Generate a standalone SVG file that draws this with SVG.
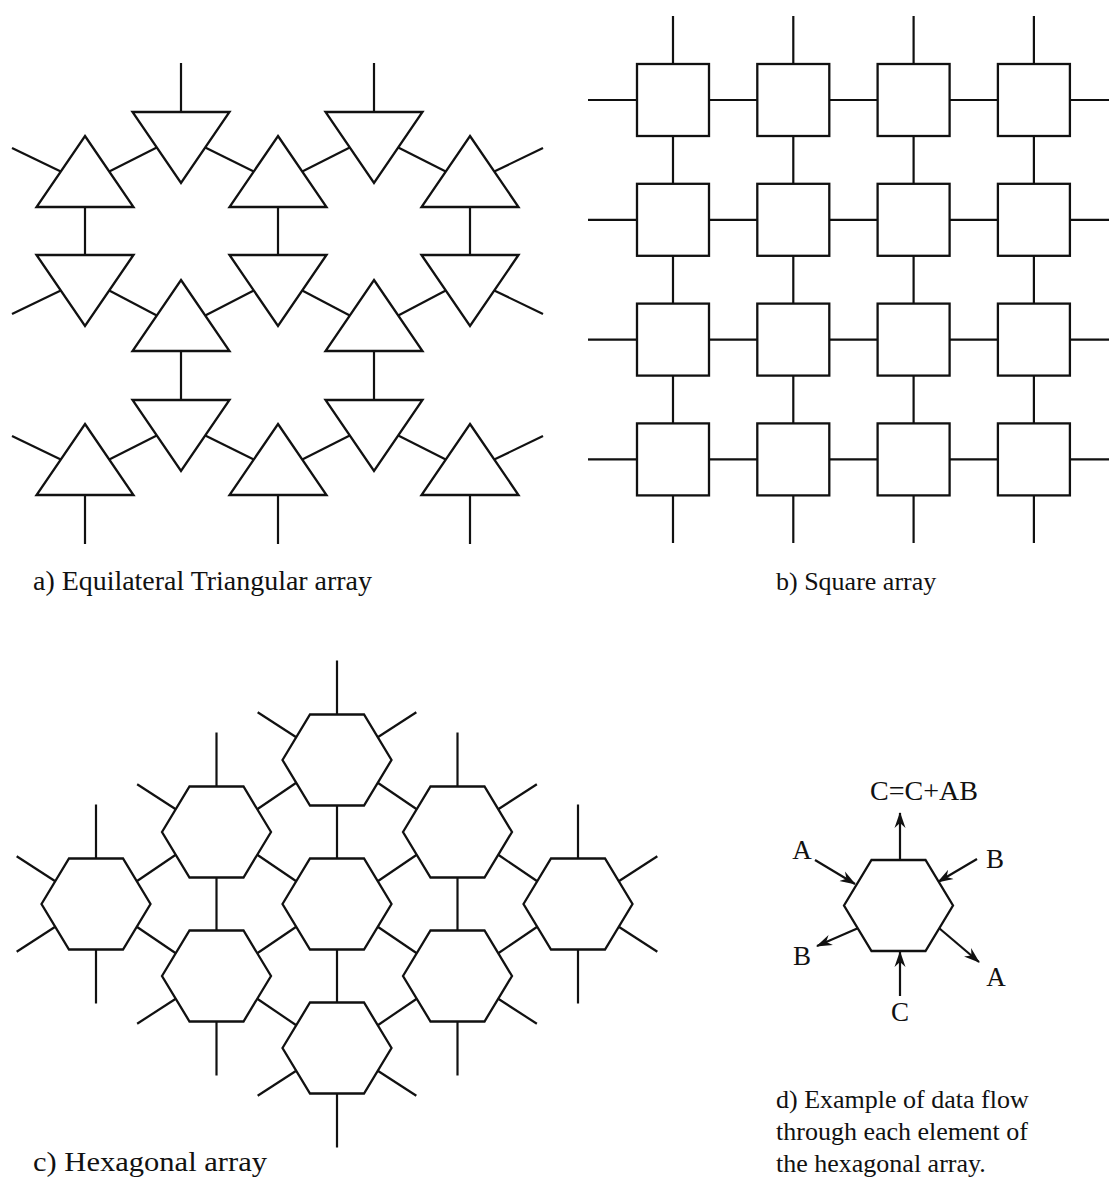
<svg xmlns="http://www.w3.org/2000/svg" width="1109" height="1186" viewBox="0 0 1109 1186">
<defs>
<style>
.n{fill:#fff;stroke:#111;stroke-width:2.3;stroke-linejoin:miter}
.c line,.c path{stroke:#111;stroke-width:2.2;fill:none}
.t{font-family:"Liberation Serif","Times New Roman",serif;font-size:26px;fill:#111}
.l{font-family:"Liberation Serif","Times New Roman",serif;font-size:27px;fill:#111;text-anchor:middle}
</style>
<polygon id="up" points="0,0 48.5,71 -48.5,71"/>
<polygon id="dn" points="-48.5,0 48.5,0 0,71"/>
<polygon id="hx" points="-54.5,0 -27,-45.5 27,-45.5 54.5,0 27,45.5 -27,45.5"/>
<marker id="ah" viewBox="0 0 16 12" refX="15" refY="6" markerWidth="16" markerHeight="12" markerUnits="userSpaceOnUse" orient="auto">
<path d="M0,0.5 L16,6 L0,11.5 L5,6 z" fill="#111"/>
</marker>
</defs>
<rect width="1109" height="1186" fill="#fff"/>

<!-- a) triangular array connectors -->
<g id="tri-connectors" class="c">
<line x1="109.25" y1="171.5" x2="156.75" y2="147.5"/>
<line x1="205.25" y1="147.5" x2="253.75" y2="171.5"/>
<line x1="302.25" y1="171.5" x2="349.75" y2="147.5"/>
<line x1="398.25" y1="147.5" x2="445.75" y2="171.5"/>
<line x1="60.75" y1="171.5" x2="12" y2="148"/>
<line x1="494.25" y1="171.5" x2="543" y2="148"/>
<line x1="181" y1="112" x2="181" y2="63"/>
<line x1="374" y1="112" x2="374" y2="63"/>
<line x1="85" y1="207" x2="85" y2="255"/>
<line x1="278" y1="207" x2="278" y2="255"/>
<line x1="470" y1="207" x2="470" y2="255"/>
<line x1="109.25" y1="290.5" x2="156.75" y2="315.5"/>
<line x1="205.25" y1="315.5" x2="253.75" y2="290.5"/>
<line x1="302.25" y1="290.5" x2="349.75" y2="315.5"/>
<line x1="398.25" y1="315.5" x2="445.75" y2="290.5"/>
<line x1="60.75" y1="290.5" x2="12" y2="314"/>
<line x1="494.25" y1="290.5" x2="543" y2="314"/>
<line x1="181" y1="351" x2="181" y2="400"/>
<line x1="374" y1="351" x2="374" y2="400"/>
<line x1="109.25" y1="459.5" x2="156.75" y2="435.5"/>
<line x1="205.25" y1="435.5" x2="253.75" y2="459.5"/>
<line x1="302.25" y1="459.5" x2="349.75" y2="435.5"/>
<line x1="398.25" y1="435.5" x2="445.75" y2="459.5"/>
<line x1="60.75" y1="459.5" x2="12" y2="436"/>
<line x1="494.25" y1="459.5" x2="543" y2="436"/>
<line x1="85" y1="495" x2="85" y2="544"/>
<line x1="278" y1="495" x2="278" y2="544"/>
<line x1="470" y1="495" x2="470" y2="544"/>
</g>
<g id="tri-nodes">
<g id="t11"><use href="#up" class="n" x="85" y="136"/></g>
<g id="t12"><use href="#dn" class="n" x="181" y="112"/></g>
<g id="t13"><use href="#up" class="n" x="278" y="136"/></g>
<g id="t14"><use href="#dn" class="n" x="374" y="112"/></g>
<g id="t15"><use href="#up" class="n" x="470" y="136"/></g>
<g id="t21"><use href="#dn" class="n" x="85" y="255"/></g>
<g id="t22"><use href="#up" class="n" x="181" y="280"/></g>
<g id="t23"><use href="#dn" class="n" x="278" y="255"/></g>
<g id="t24"><use href="#up" class="n" x="374" y="280"/></g>
<g id="t25"><use href="#dn" class="n" x="470" y="255"/></g>
<g id="t31"><use href="#up" class="n" x="85" y="424"/></g>
<g id="t32"><use href="#dn" class="n" x="181" y="400"/></g>
<g id="t33"><use href="#up" class="n" x="278" y="424"/></g>
<g id="t34"><use href="#dn" class="n" x="374" y="400"/></g>
<g id="t35"><use href="#up" class="n" x="470" y="424"/></g>
</g>
<text class="t" x="33" y="590" style="font-size:27px" textLength="339" lengthAdjust="spacingAndGlyphs">a) Equilateral Triangular array</text>

<!-- b) square array -->
<g id="sq-connectors" class="c">
<path d="M588,100H637 M709,100H757.3 M829.3,100H877.6 M949.6,100H997.9 M1069.9,100H1109"/>
<path d="M588,219.8H637 M709,219.8H757.3 M829.3,219.8H877.6 M949.6,219.8H997.9 M1069.9,219.8H1109"/>
<path d="M588,339.6H637 M709,339.6H757.3 M829.3,339.6H877.6 M949.6,339.6H997.9 M1069.9,339.6H1109"/>
<path d="M588,459.4H637 M709,459.4H757.3 M829.3,459.4H877.6 M949.6,459.4H997.9 M1069.9,459.4H1109"/>
<path d="M673,16V64 M673,136V183.8 M673,255.8V303.6 M673,375.6V423.4 M673,495.4V543"/>
<path d="M793.3,16V64 M793.3,136V183.8 M793.3,255.8V303.6 M793.3,375.6V423.4 M793.3,495.4V543"/>
<path d="M913.6,16V64 M913.6,136V183.8 M913.6,255.8V303.6 M913.6,375.6V423.4 M913.6,495.4V543"/>
<path d="M1033.9,16V64 M1033.9,136V183.8 M1033.9,255.8V303.6 M1033.9,375.6V423.4 M1033.9,495.4V543"/>
</g>
<g id="sq-nodes">
<g id="s11"><rect class="n" x="637" y="64" width="72" height="72"/></g>
<g id="s12"><rect class="n" x="757.3" y="64" width="72" height="72"/></g>
<g id="s13"><rect class="n" x="877.6" y="64" width="72" height="72"/></g>
<g id="s14"><rect class="n" x="997.9" y="64" width="72" height="72"/></g>
<g id="s21"><rect class="n" x="637" y="183.8" width="72" height="72"/></g>
<g id="s22"><rect class="n" x="757.3" y="183.8" width="72" height="72"/></g>
<g id="s23"><rect class="n" x="877.6" y="183.8" width="72" height="72"/></g>
<g id="s24"><rect class="n" x="997.9" y="183.8" width="72" height="72"/></g>
<g id="s31"><rect class="n" x="637" y="303.6" width="72" height="72"/></g>
<g id="s32"><rect class="n" x="757.3" y="303.6" width="72" height="72"/></g>
<g id="s33"><rect class="n" x="877.6" y="303.6" width="72" height="72"/></g>
<g id="s34"><rect class="n" x="997.9" y="303.6" width="72" height="72"/></g>
<g id="s41"><rect class="n" x="637" y="423.4" width="72" height="72"/></g>
<g id="s42"><rect class="n" x="757.3" y="423.4" width="72" height="72"/></g>
<g id="s43"><rect class="n" x="877.6" y="423.4" width="72" height="72"/></g>
<g id="s44"><rect class="n" x="997.9" y="423.4" width="72" height="72"/></g>
</g>
<text class="t" x="776" y="590">b) Square array</text>

<!-- c) hexagonal array -->
<g id="hex-connectors" class="c">
<line x1="337" y1="714.5" x2="337" y2="660.5"/>
<line x1="296.25" y1="737.25" x2="257.65" y2="712.25"/>
<line x1="377.75" y1="737.25" x2="416.35" y2="712.25"/>
<line x1="216.5" y1="786.5" x2="216.5" y2="732.5"/>
<line x1="175.75" y1="809.25" x2="137.15" y2="784.25"/>
<line x1="457.5" y1="786.5" x2="457.5" y2="732.5"/>
<line x1="498.25" y1="809.25" x2="536.85" y2="784.25"/>
<line x1="96" y1="858.5" x2="96" y2="804.5"/>
<line x1="55.25" y1="881.25" x2="16.65" y2="856.25"/>
<line x1="55.25" y1="926.75" x2="16.65" y2="951.75"/>
<line x1="96" y1="949.5" x2="96" y2="1003.5"/>
<line x1="578" y1="858.5" x2="578" y2="804.5"/>
<line x1="618.75" y1="881.25" x2="657.35" y2="856.25"/>
<line x1="618.75" y1="926.75" x2="657.35" y2="951.75"/>
<line x1="578" y1="949.5" x2="578" y2="1003.5"/>
<line x1="175.75" y1="998.75" x2="137.15" y2="1023.75"/>
<line x1="216.5" y1="1021.5" x2="216.5" y2="1075.5"/>
<line x1="498.25" y1="998.75" x2="536.85" y2="1023.75"/>
<line x1="457.5" y1="1021.5" x2="457.5" y2="1075.5"/>
<line x1="296.25" y1="1070.75" x2="257.65" y2="1095.75"/>
<line x1="377.75" y1="1070.75" x2="416.35" y2="1095.75"/>
<line x1="337" y1="1093.5" x2="337" y2="1147.5"/>
<line x1="296.25" y1="782.75" x2="257.25" y2="809.25"/>
<line x1="377.75" y1="782.75" x2="416.75" y2="809.25"/>
<line x1="337" y1="805.5" x2="337" y2="858.5"/>
<line x1="175.75" y1="854.75" x2="136.75" y2="881.25"/>
<line x1="257.25" y1="854.75" x2="296.25" y2="881.25"/>
<line x1="216.5" y1="877.5" x2="216.5" y2="930.5"/>
<line x1="416.75" y1="854.75" x2="377.75" y2="881.25"/>
<line x1="498.25" y1="854.75" x2="537.25" y2="881.25"/>
<line x1="457.5" y1="877.5" x2="457.5" y2="930.5"/>
<line x1="136.75" y1="926.75" x2="175.75" y2="953.25"/>
<line x1="296.25" y1="926.75" x2="257.25" y2="953.25"/>
<line x1="377.75" y1="926.75" x2="416.75" y2="953.25"/>
<line x1="337" y1="949.5" x2="337" y2="1002.5"/>
<line x1="537.25" y1="926.75" x2="498.25" y2="953.25"/>
<line x1="257.25" y1="998.75" x2="296.25" y2="1025.25"/>
<line x1="416.75" y1="998.75" x2="377.75" y2="1025.25"/>
</g>
<g id="hex-nodes">
<g id="h1"><use href="#hx" class="n" x="337" y="760"/></g>
<g id="h2"><use href="#hx" class="n" x="216.5" y="832"/></g>
<g id="h3"><use href="#hx" class="n" x="457.5" y="832"/></g>
<g id="h4"><use href="#hx" class="n" x="96" y="904"/></g>
<g id="h5"><use href="#hx" class="n" x="337" y="904"/></g>
<g id="h6"><use href="#hx" class="n" x="578" y="904"/></g>
<g id="h7"><use href="#hx" class="n" x="216.5" y="976"/></g>
<g id="h8"><use href="#hx" class="n" x="457.5" y="976"/></g>
<g id="h9"><use href="#hx" class="n" x="337" y="1048"/></g>
</g>
<text class="t" x="33" y="1171" style="font-size:27px" textLength="234" lengthAdjust="spacingAndGlyphs">c) Hexagonal array</text>

<!-- d) data flow example -->
<g id="flow-connectors" class="c">
<line x1="900" y1="860" x2="900" y2="813" marker-end="url(#ah)"/>
<line x1="815" y1="860" x2="855" y2="884" marker-end="url(#ah)"/>
<line x1="977" y1="859" x2="938" y2="882" marker-end="url(#ah)"/>
<line x1="857.75" y1="928.25" x2="817" y2="946" marker-end="url(#ah)"/>
<line x1="939.25" y1="928.25" x2="979" y2="962" marker-end="url(#ah)"/>
<line x1="900" y1="996" x2="900" y2="952" marker-end="url(#ah)"/>
</g>
<g id="pe"><use href="#hx" class="n" x="898.5" y="905.5"/></g>
<g id="flow-labels">
<text class="l" x="924" y="800" textLength="108" lengthAdjust="spacingAndGlyphs">C=C+AB</text>
<text class="l" x="802" y="859">A</text>
<text class="l" x="995" y="868">B</text>
<text class="l" x="802" y="965">B</text>
<text class="l" x="996" y="986">A</text>
<text class="l" x="900" y="1021">C</text>
</g>
<text class="t" x="776" y="1108">d) Example of data flow</text>
<text class="t" x="776" y="1140">through each element of</text>
<text class="t" x="776" y="1172">the hexagonal array.</text>
</svg>
